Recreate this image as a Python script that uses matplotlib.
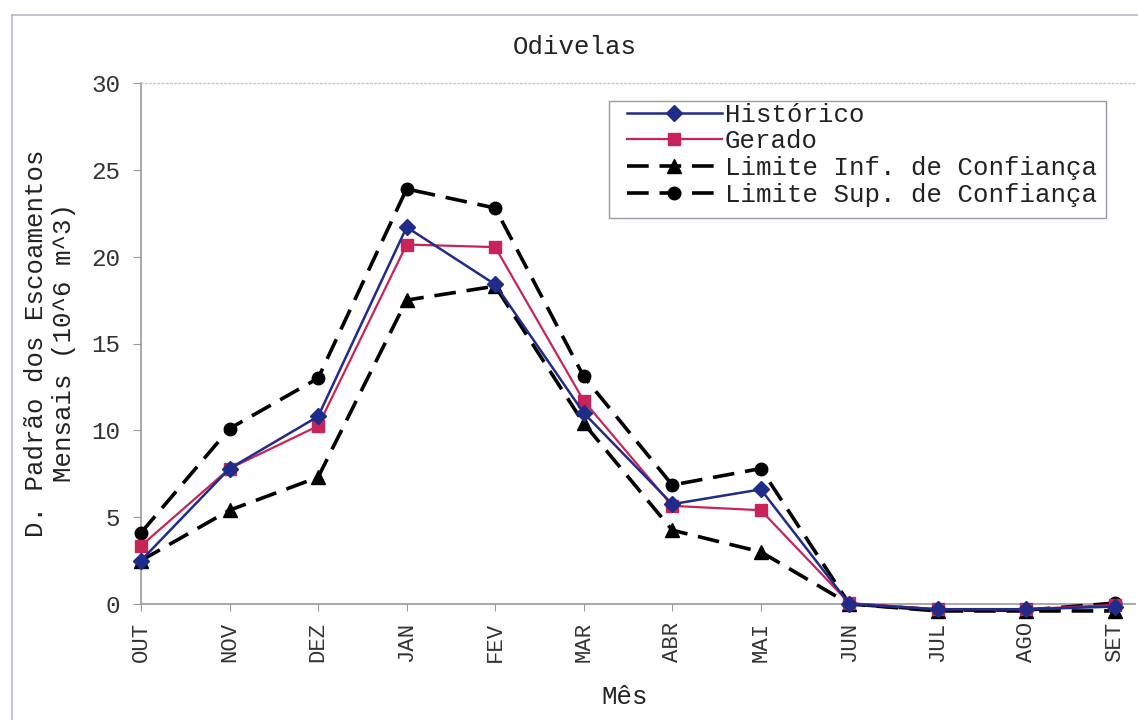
import matplotlib
matplotlib.use("Agg")
import matplotlib.pyplot as plt
from matplotlib.lines import Line2D
from matplotlib.patches import Rectangle

months = ["OUT", "NOV", "DEZ", "JAN", "FEV", "MAR", "ABR", "MAI", "JUN", "JUL", "AGO", "SET"]
historico = [2.5, 7.8, 10.8, 21.7, 18.4, 11.0, 5.75, 6.6, 0.0, -0.3, -0.3, -0.15]
gerado = [3.35, 7.8, 10.25, 20.7, 20.55, 11.7, 5.65, 5.4, 0.05, -0.3, -0.3, -0.05]
lim_inf = [2.5, 5.4, 7.3, 17.5, 18.3, 10.4, 4.25, 3.0, 0.0, -0.4, -0.4, -0.4]
lim_sup = [4.1, 10.1, 13.0, 23.9, 22.8, 13.1, 6.85, 7.8, 0.0, -0.35, -0.35, 0.05]
y_ticks = [0, 5, 10, 15, 20, 25, 30]

FONT = "Liberation Mono"
plt.rcParams["font.family"] = [FONT, "DejaVu Sans Mono"]

W, H = 1138, 720
fig = plt.figure(figsize=(W / 100, H / 100), dpi=100)
fig.patch.set_facecolor("white")

# outer chart-area frame
fig.add_artist(Line2D([12 / W, 1.0], [1 - 15 / H, 1 - 15 / H], color="#b8b8c8", lw=1.2))
fig.add_artist(Line2D([12 / W, 12 / W], [0.0, 1 - 15 / H], color="#b8b8c8", lw=1.2))

left, right, bottom, top = 141, 1135, 604, 83
ax = fig.add_axes([left / W, 1 - bottom / H, (right - left) / W, (bottom - top) / H])

x = list(range(len(months)))
navy = "#1f2c8a"
crimson = "#c9245a"

ax.plot(x, lim_sup, color="black", lw=2.6, dashes=(6, 3), marker="o", ms=9,
        clip_on=False, zorder=3, label="Limite Sup. de Confiança")
ax.plot(x, lim_inf, color="black", lw=2.6, dashes=(6, 3), marker="^", ms=10,
        clip_on=False, zorder=3, label="Limite Inf. de Confiança")
ax.plot(x, gerado, color=crimson, lw=1.6, marker="s", ms=9,
        clip_on=False, zorder=4, label="Gerado")
ax.plot(x, historico, color=navy, lw=1.8, marker="D", ms=8,
        clip_on=False, zorder=5, label="Histórico")

ax.set_xlim(0, (right - left) / ((1115 - 141) / 11))
ax.set_ylim(0, 30)
ax.set_yticks(y_ticks)
ax.set_yticklabels([str(v) for v in y_ticks], fontsize=17.5, color="#333333")
ax.set_xticks(x)
ax.set_xticklabels(months, rotation=90, fontsize=16, color="#333333")
ax.tick_params(axis="y", direction="out", length=6, color="#999999", pad=9)
ax.tick_params(axis="x", direction="out", length=5, color="#999999", pad=8)

for s in ("left", "bottom"):
    ax.spines[s].set_color("#999999")
    ax.spines[s].set_linewidth(1.2)
ax.spines["right"].set_visible(False)
ax.spines["top"].set_color("#c8c8d0")
ax.spines["top"].set_linestyle((0, (1, 2)))
ax.spines["top"].set_linewidth(1.0)

fig.text(575 / W, 1 - 47 / H, "Odivelas", ha="center", va="center", fontsize=18.5, color="#222222")
fig.text(625 / W, 1 - 697 / H, "Mês", ha="center", va="center", fontsize=18.5, color="#222222")
fig.text(50 / W, 1 - 343 / H, "D. Padrão dos Escoamentos\nMensais (10^6 m^3)", ha="center",
         va="center", rotation=90, fontsize=18.5, color="#222222", linespacing=1.2)

# legend frame drawn separately so the inner padding can differ per side
ax.add_patch(Rectangle((609 / W, 1 - 218 / H), (1106 - 609) / W, (218 - 101) / H,
                       transform=fig.transFigure, facecolor="white",
                       edgecolor="#9a9aa8", lw=1.0, zorder=6, clip_on=False))

handles, labels = ax.get_legend_handles_labels()
order = [3, 2, 1, 0]
leg = ax.legend([handles[i] for i in order], [labels[i] for i in order],
                loc="upper left", bbox_to_anchor=(623 / W, 1 - 99 / H),
                bbox_transform=fig.transFigure, fontsize=18.5, frameon=False,
                handlelength=3.7, handletextpad=0.12, labelspacing=0.1,
                borderpad=0.15, borderaxespad=0)
leg.set_zorder(7)
for t in leg.get_texts():
    t.set_color("#222222")

fig.savefig("out.png", dpi=100, facecolor="white")
